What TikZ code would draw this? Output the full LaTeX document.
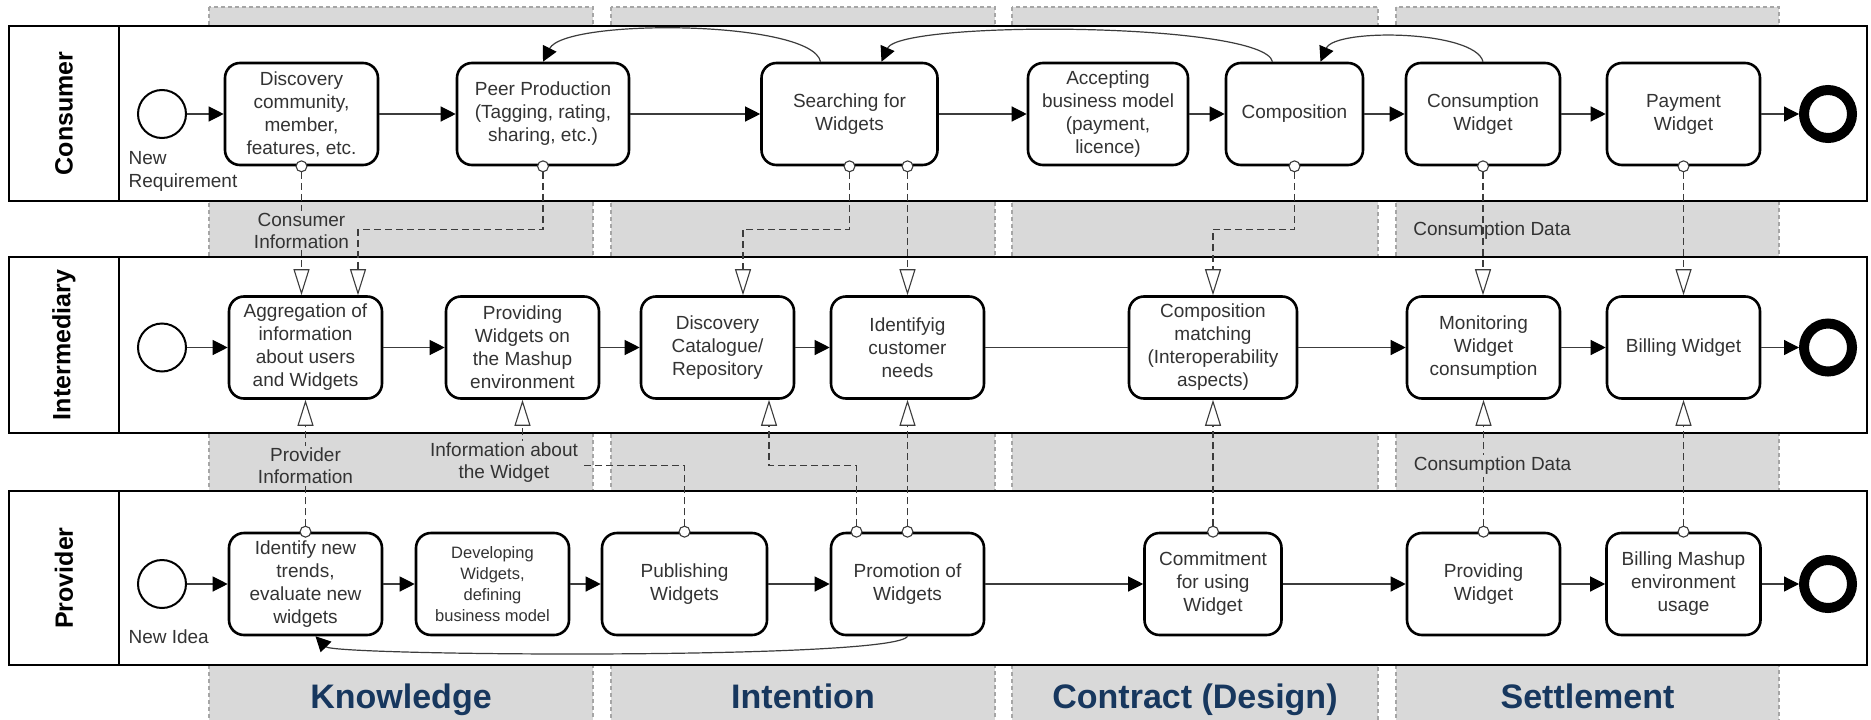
\documentclass[tikz,border=0pt]{standalone}
\usepackage{fontspec}
\setmainfont{Liberation Sans}
\usetikzlibrary{arrows.meta}
\definecolor{bandgray}{HTML}{D9D9D9}
\definecolor{banddash}{HTML}{A6A6A6}
\definecolor{txtgray}{HTML}{333333}
\definecolor{linegray}{HTML}{3C3C3C}
\definecolor{phaseblue}{HTML}{17375E}
\newcommand{\drawband}[4]
{\draw[banddash,fill=bandgray,line width=1.2pt,dash pattern=on 4pt off 3pt] (#1,7) rectangle (#2,723);
\node[phaselabel] (#3) at ({(#1+#2)/2},708) {#4};
}
\newcommand{\drawlane}[4]
{\draw[laneframe,fill=white] (9,#1) rectangle (1867,#2);
\draw[laneframe] (119,#1) -- (119,#2);
\node[lanelabel] (#3) at (64,{(#1+#2)/2}) {#4};
}
\tikzset{
  laneframe/.style={line width=2.8pt},
  lanelabel/.style={rotate=90,font=\bfseries\fontsize{25}{30}\selectfont},
  phaselabel/.style={anchor=base,text=phaseblue,font=\bfseries\fontsize{34}{40}\selectfont},
  taskbox/.style={draw,line width=2.6pt,rounded corners=15pt,fill=white,text=txtgray,align=center,
    minimum width=153pt,minimum height=102pt,inner sep=2pt,font=\fontsize{19}{23}\selectfont},
  startev/.style={draw,circle,line width=2pt,minimum size=48pt,fill=white},
  endev/.style={draw,circle,line width=10pt,minimum size=48pt,fill=white},
  flow/.style={->,draw=linegray,line width=1.2pt},
  msg/.style={draw=linegray,line width=1.1pt,dash pattern=on 7pt off 4pt,shorten <=-6pt,
    {Circle[open,fill=white,length=12pt]}-{Triangle[open,fill=white,length=26pt,width=16pt]}},
  lbl/.style={fill=bandgray,text=txtgray,align=center,inner sep=2pt,font=\fontsize{19}{22}\selectfont},
  evlabel/.style={anchor=west,text=txtgray,align=left,font=\fontsize{19}{23}\selectfont}
}

\begin{document}
\begin{tikzpicture}[x=1pt,y=-1pt,>={Triangle[length=15pt,width=15pt,color=black]}]
\useasboundingbox (0,0) rectangle (1871,720);

% phases
\drawband{209}{593}{phK}{Knowledge}
\drawband{611}{995}{phI}{Intention}
\drawband{1012}{1378}{phC}{Contract (Design)}
\drawband{1396}{1779}{phS}{Settlement}

% pools
\drawlane{26}{201}{lC}{Consumer}
\drawlane{257}{433}{lI}{Intermediary}
\drawlane{491}{665}{lP}{Provider}

% consumer
\node[startev] (s1) at (162,114) {};
\node[evlabel] (nr) at (125,171.5) {New\\Requirement};
\node[taskbox] (c1) at (301.5,114) {Discovery\\community,\\member,\\features, etc.};
\node[taskbox,minimum width=172pt] (c2) at (543,114) {Peer Production\\(Tagging, rating,\\sharing, etc.)};
\node[taskbox,minimum width=176pt] (c3) at (849.5,114) {Searching for\\Widgets};
\node[taskbox,minimum width=160pt] (c4) at (1108,114) {Accepting\\business model\\(payment,\\licence)};
\node[taskbox,minimum width=137pt] (c5) at (1294.5,114) {Composition};
\node[taskbox,minimum width=154pt] (c6) at (1483,114) {Consumption\\Widget};
\node[taskbox] (c7) at (1683.5,114) {Payment\\Widget};
\node[endev] (e1) at (1828,114) {};

% intermediary
\node[startev] (s2) at (162,347.5) {};
\node[taskbox] (i1) at (305.5,347.5) {Aggregation of\\information\\about users\\and Widgets};
\node[taskbox] (i2) at (522.5,347.5) {Providing\\Widgets on\\the Mashup\\environment};
\node[taskbox] (i3) at (717.5,347.5) {Discovery\\Catalogue/\\Repository};
\node[taskbox] (i4) at (907.5,347.5) {Identifyig\\customer\\needs};
\node[taskbox,minimum width=168pt] (i5) at (1213,347.5) {Composition\\matching\\(Interoperability\\aspects)};
\node[taskbox] (i6) at (1483.5,347.5) {Monitoring\\Widget\\consumption};
\node[taskbox] (i7) at (1683.5,347.5) {Billing Widget};
\node[endev] (e2) at (1828,347.5) {};

% provider
\node[startev] (s3) at (162,584) {};
\node[evlabel] (ni) at (125,637) {New Idea};
\node[taskbox] (p1) at (305.5,584) {Identify new\\trends,\\evaluate new\\widgets};
\node[taskbox,font=\fontsize{16.5}{21}\selectfont] (p2) at (492.5,584) {Developing\\Widgets,\\defining\\business model};
\node[taskbox,minimum width=165pt] (p3) at (684.5,584) {Publishing\\Widgets};
\node[taskbox] (p4) at (907.5,584) {Promotion of\\Widgets};
\node[taskbox,minimum width=137pt] (p5) at (1213,584) {Commitment\\for using\\Widget};
\node[taskbox] (p6) at (1483.5,584) {Providing\\Widget};
\node[taskbox,minimum width=154pt] (p7) at (1683.5,584) {Billing Mashup\\environment\\usage};
\node[endev] (e3) at (1828,584) {};

% sequence flows
\foreach \a/\b in {s1/c1,c1/c2,c2/c3,c3/c4,c4/c5,c5/c6,c6/c7,c7/e1,
  s2/i1,i1/i2,i2/i3,i3/i4,i5/i6,i6/i7,i7/e2,
  s3/p1,p1/p2,p2/p3,p3/p4,p4/p5,p5/p6,p6/p7,p7/e3}
  {\draw[flow] (\a) -- (\b);
  };
\draw[flow,-] (i4) -- (i5);

% loops back
\draw[flow] ([xshift=-29pt]c3.north) .. controls (812,20) and (565,18) .. (c2.north);
\draw[flow] ([xshift=-22pt]c5.north) .. controls (1264,22) and (900,20) .. ([xshift=32pt]c3.north);
\draw[flow] (c6.north) .. controls (1475,30) and (1335,28) .. ([xshift=26pt]c5.north);
\draw[flow] (p4.south) .. controls (895,660) and (335,656) .. ([xshift=10pt]p1.south);

% message flows, consumer to intermediary
\draw[msg] (c1.south) -- node[lbl] (lb1) {Consumer\\Information} (c1.south |- i1.north);
\draw[msg] (c2.south) -- ++(0,63) -| ([xshift=52.5pt]i1.north);
\draw[msg] (c3.south) -- ++(0,63) -| ([xshift=25.5pt]i3.north);
\draw[msg] ([xshift=58pt]c3.south) -- (i4.north);
\draw[msg] (c5.south) -- ++(0,63) -| (i5.north);
\draw[msg] (c6.south) -- node[lbl,fill=none,xshift=9pt] (lb2) {Consumption Data} (c6.south |- i6.north);
\draw[msg] (c7.south) -- (i7.north);

% message flows, provider to intermediary
\draw[msg] (p1.north) -- node[lbl] (lb3) {Provider\\Information} (i1.south);
\draw[msg] (p3.north) -- ++(0,-66) -| (i2.south);
\node[lbl] (lb4) at (504,463) {Information about\\the Widget};
\draw[msg] ([xshift=-51pt]p4.north) -- ++(0,-66) -| ([xshift=51.5pt]i3.south);
\draw[msg] (p4.north) -- (i4.south);
\draw[msg] (p5.north) -- (i5.south);
\draw[msg] (p6.north) -- node[lbl,xshift=9pt] (lb5) {Consumption Data} (p6.north |- i6.south);
\draw[msg] (p7.north) -- (i7.south);
\end{tikzpicture}
\end{document}
